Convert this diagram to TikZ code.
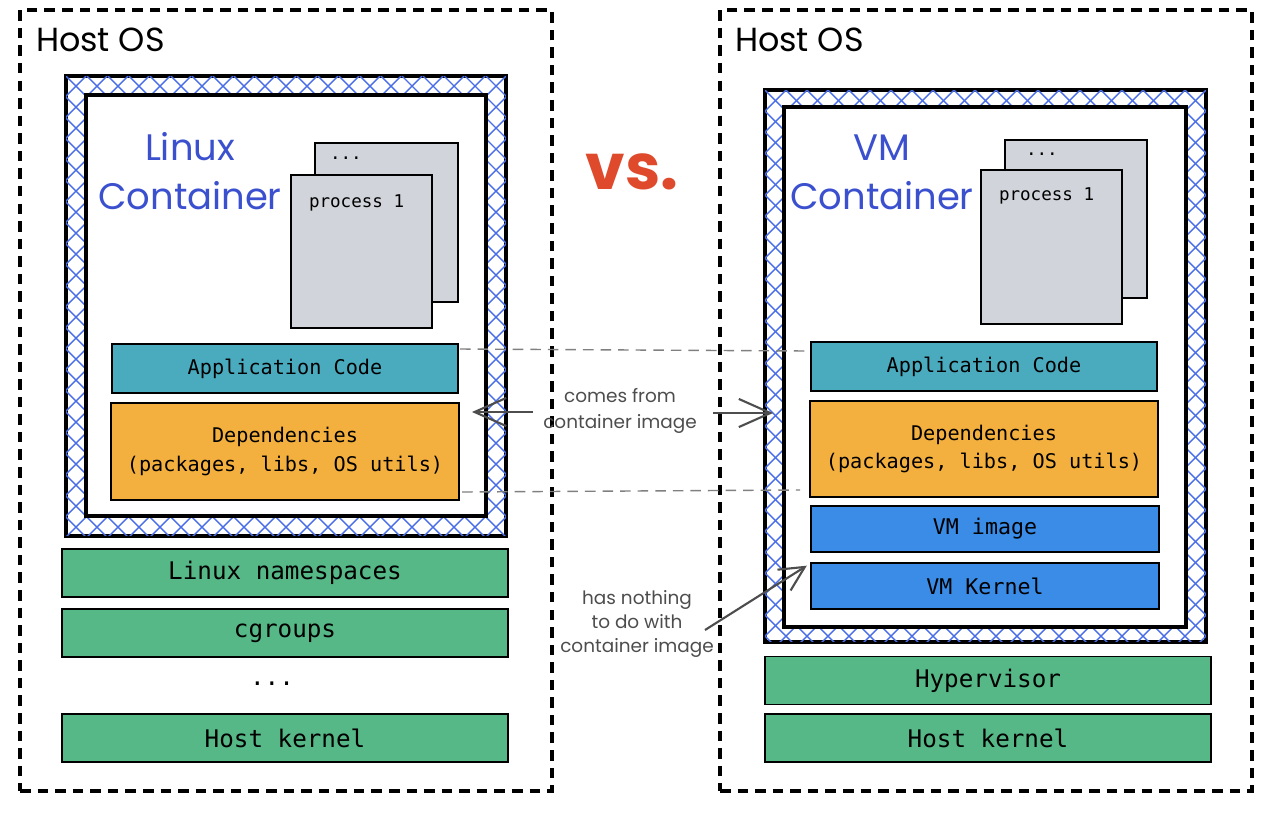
\documentclass[tikz,border=0pt]{standalone}
\usepackage{fontspec}
\setmonofont{DejaVu Sans Mono}
\newfontfamily\hand{Poppins}
\usetikzlibrary{positioning, arrows.meta}

\definecolor{inkblue}{HTML}{3B50CF}
\definecolor{hatchblue}{HTML}{4A6EE6}
\definecolor{vsred}{HTML}{E04A2C}
\definecolor{appteal}{HTML}{4AABBF}
\definecolor{deporange}{HTML}{F3B03F}
\definecolor{hostgreen}{HTML}{55B886}
\definecolor{vmblue}{HTML}{3A8CE6}
\definecolor{procgray}{HTML}{D1D5DB}
\definecolor{notegray}{HTML}{4D4D4D}

\begin{document}
\begin{tikzpicture}[x=0.02cm,y=-0.02cm,inner sep=0pt,outer sep=0pt]
	\tikzset{hostbox/.style={draw, line width=2pt, dash pattern=on 6pt off 4pt},
		wall/.style={draw, line width=2.2pt},
		hatch/.style={draw=hatchblue, line width=0.8pt},
		innerbox/.style={draw, line width=2.2pt, fill=white},
		proc/.style={draw, line width=0.9pt, fill=procgray},
		proctext/.style={font=\ttfamily\fontsize{10}{12}\selectfont},
		bar/.style={draw, line width=1.1pt, font=\ttfamily\fontsize{11.5}{16}\selectfont, align=center},
		appbar/.style={bar, fill=appteal, minimum width=6.92cm, minimum height=0.98cm},
		depbar/.style={bar, fill=deporange, minimum width=6.96cm, minimum height=1.94cm},
		hostbar/.style={bar, fill=hostgreen, minimum width=8.92cm, minimum height=0.96cm, font=\ttfamily\fontsize{13.8}{16}\selectfont},
		vmbar/.style={bar, fill=vmblue, minimum width=6.96cm, minimum height=0.92cm, font=\ttfamily\fontsize{12.3}{16}\selectfont},
		hosttitle/.style={font=\hand\fontsize{19}{22}\selectfont, anchor=west},
		title/.style={font=\hand\fontsize{21}{28}\selectfont, text=inkblue, align=center},
		note/.style={font=\hand\fontsize{10.5}{14.5}\selectfont, text=notegray, align=center},
		notearrow/.style={-{Straight Barb[length=18pt,width=16pt,line width=1.2pt]}, draw=notegray, line width=1.2pt},
		guide/.style={draw=gray, line width=0.8pt, dash pattern=on 6pt off 4pt}}
	\useasboundingbox (0,0) rectangle (1282,816);

	% left side
	\node[hostbox, minimum width=10.64cm, minimum height=15.62cm] (lhost) at (286,400.5) {};
	\node[hosttitle] (lhostt) at (36,40) {Host OS};
	\node[wall, minimum width=8.8cm, minimum height=9.2cm] (lwall) at (286,306) {};
	\begin{scope}
		\clip (lwall.north west) rectangle (lwall.south east);
		\foreach \d in {-462,-441,...,441}
			\draw[hatch] ([xshift=\d*0.02cm]lwall.north west) -- ++(470,470)
				([xshift=-\d*0.02cm]lwall.north east) -- ++(-470,470);
	\end{scope}
	\node[innerbox, minimum width=8cm, minimum height=8.42cm] (lbox) at (286,305.5) {};
	\node[title] (ltitle) at (190,171) {Linux\\Container};
	\node[proc, minimum width=2.86cm, minimum height=3.18cm] (lproc2) at (386.5,222.5) {};
	\node[proctext, anchor=west] (lproc2t) at (330,158) {...};
	\node[proc, minimum width=2.82cm, minimum height=3.06cm] (lproc1) at (361.5,251.5) {};
	\node[proctext, anchor=west] (lproc1t) at (309,203) {process 1};
	\node[appbar] (lapp) at (285,368.5) {Application Code};
	\node[depbar] (ldep) at (285,451.5) {Dependencies\\(packages, libs, OS utils)};
	\node[hostbar] (lns) at (285,573) {Linux namespaces};
	\node[hostbar] (lcg) at (285,633) {cgroups};
	\node[font=\ttfamily\fontsize{13.8}{16}\selectfont] (ldots) at (272,684) {...};
	\node[hostbar] (lkern) at (285,738) {Host kernel};

	\node[font=\hand\bfseries\fontsize{36}{40}\selectfont, text=vsred] (vs) at (632,172) {vs.};

	% right side
	\node[hostbox, minimum width=10.64cm, minimum height=15.62cm] (rhost) at (986,400.5) {};
	\node[hosttitle] (rhostt) at (735,40) {Host OS};
	\node[wall, minimum width=8.82cm, minimum height=11.04cm] (rwall) at (985.5,366) {};
	\begin{scope}
		\clip (rwall.north west) rectangle (rwall.south east);
		\foreach \d in {-567,-546,...,441}
			\draw[hatch] ([xshift=\d*0.02cm]rwall.north west) -- ++(570,570)
				([xshift=-\d*0.02cm]rwall.north east) -- ++(-570,570);
	\end{scope}
	\node[innerbox, minimum width=8.04cm, minimum height=10.4cm] (rbox) at (985,367) {};
	\node[title] (rtitle) at (882,172) {VM\\Container};
	\node[proc, minimum width=2.84cm, minimum height=3.16cm] (rproc2) at (1076,219) {};
	\node[proctext, anchor=west] (rproc2t) at (1026,154) {...};
	\node[proc, minimum width=2.82cm, minimum height=3.08cm] (rproc1) at (1051.5,247) {};
	\node[proctext, anchor=west] (rproc1t) at (999,196) {process 1};
	\node[appbar] (rapp) at (984,366.5) {Application Code};
	\node[depbar, minimum height=1.92cm] (rdep) at (984,449) {Dependencies\\(packages, libs, OS utils)};
	\node[vmbar] (rvmi) at (985,529) {VM image};
	\node[vmbar] (rvmk) at (985,586) {VM Kernel};
	\node[hostbar] (rhyp) at (988,680.5) {Hypervisor};
	\node[hostbar] (rkern) at (988,738) {Host kernel};

	% between
	\draw[guide] (460,349) -- (808,351);
	\draw[guide] (462,492) -- (800,490);
	\node[note] (imgnote) at (620,411) {comes from\\container image};
	\coordinate (lfrom) at (533,412);
	\coordinate (rfrom) at (713,413);
	\draw[notearrow, shorten >=0.26cm] (lfrom) -- (lfrom -| ldep.east);
	\draw[notearrow, shorten >=0.74cm] (rfrom) -- (rfrom -| rdep.west);
	\node[note, font=\hand\fontsize{10.5}{13.8}\selectfont] (vmnote) at (637,624) {has nothing\\to do with\\container image};
	\coordinate (nfrom) at (705,630);
	\draw[notearrow, -{Straight Barb[length=14pt,width=14pt,line width=1.2pt]}, shorten >=0.1cm] (nfrom) -- (rvmk.north west);
\end{tikzpicture}
\end{document}
